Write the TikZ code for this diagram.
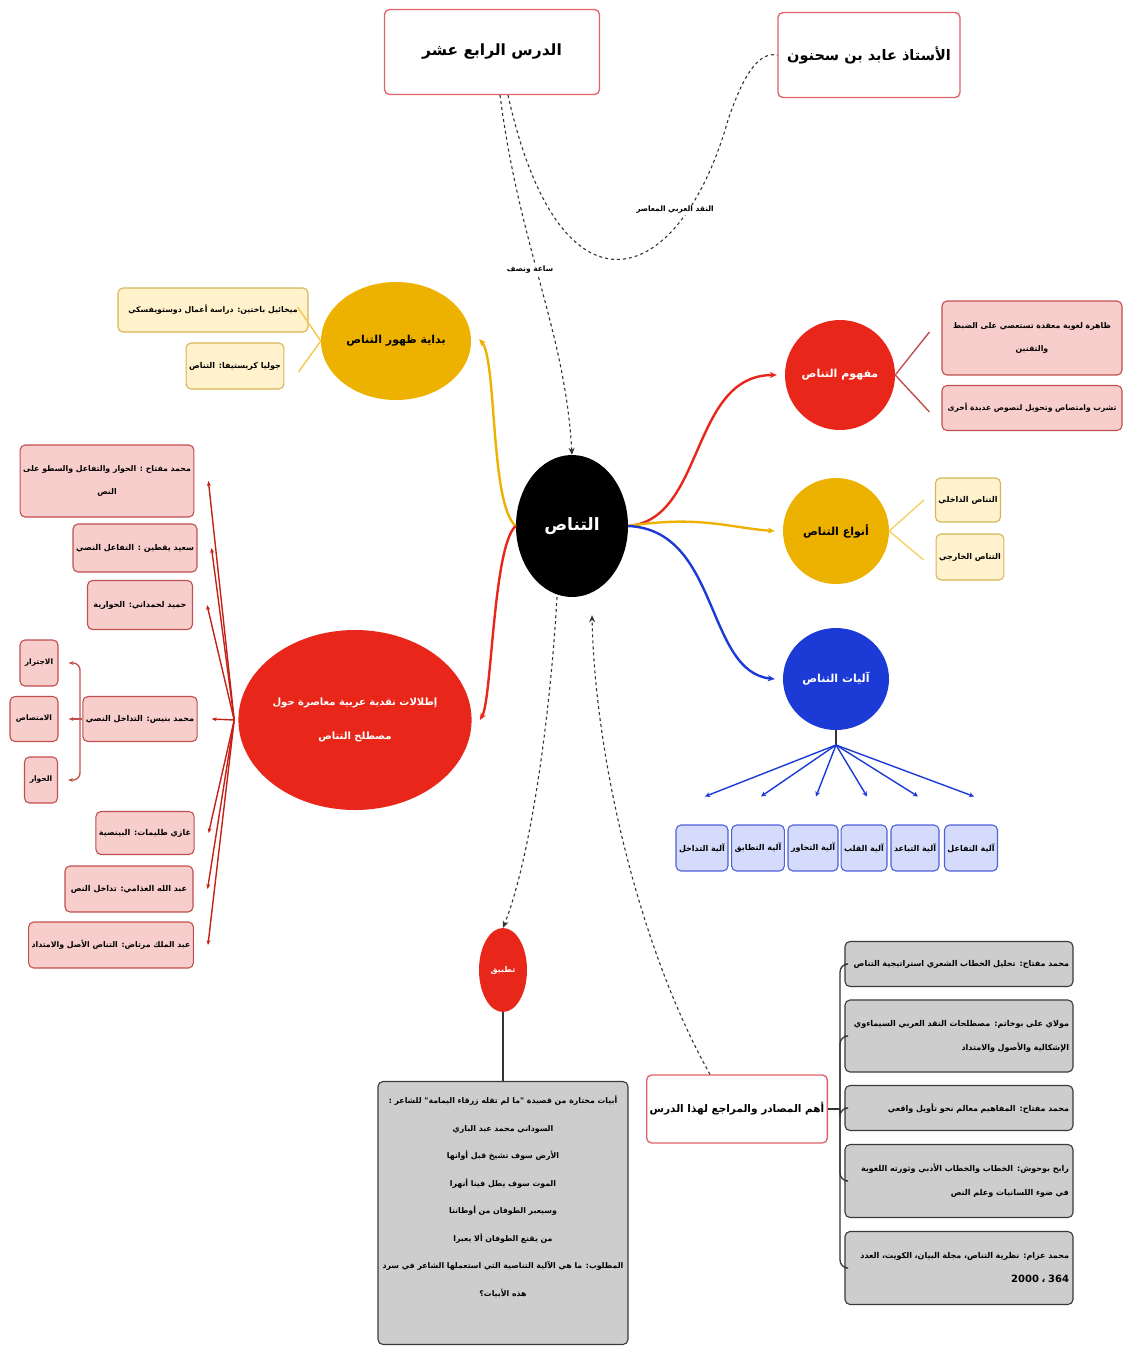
\documentclass[tikz,border=0pt]{standalone}
\usepackage{fontspec}
\newfontfamily\arabicfont[Script=Arabic]{DejaVu Sans}
\TeXXeTstate=1
\usetikzlibrary{arrows.meta,shapes.geometric,calc}
\newcommand{\AR}[1]{\beginR #1\endR}
\newcommand{\ARL}[1]{\mbox{\beginR #1\endR}}
\newcommand{\EN}[1]{\beginL #1\endL{}}
\definecolor{cRed}{HTML}{E8261A}
\definecolor{cYel}{HTML}{EDB200}
\definecolor{cBlue}{HTML}{1C3BD6}
\definecolor{pinkF}{HTML}{F8CECC}
\definecolor{pinkD}{HTML}{C0504D}
\definecolor{yelF}{HTML}{FFF2CC}
\definecolor{yelD}{HTML}{D6B656}
\definecolor{blueF}{HTML}{D5DBFA}
\definecolor{blueD}{HTML}{4F5FD8}
\definecolor{grayF}{HTML}{CDCDCD}
\definecolor{grayD}{HTML}{3A3A3A}
\definecolor{titleD}{HTML}{E0606A}
\definecolor{lineG}{HTML}{333333}
\begin{document}
\begin{tikzpicture}[x=1pt,y=-1pt,
  every node/.style={font=\arabicfont\bfseries},
  fs/.style={font=\arabicfont\bfseries\fontsize{#1}{\dimexpr #1pt*3\relax}\selectfont},
  boxbase/.style={rectangle, rounded corners=5pt, line width=1.1pt, align=center, inner sep=3pt},
  titlebox/.style={boxbase, fill=white, draw=titleD, line width=1.3pt},
  pinkbox/.style={boxbase, fill=pinkF, draw=pinkD, fs=8},
  yelbox/.style={boxbase, fill=yelF, draw=yelD, fs=8},
  bluebox/.style={boxbase, fill=blueF, draw=blueD, fs=8},
  graybox/.style={boxbase, fill=grayF, draw=grayD, fs=8},
  srcbox/.style={graybox, minimum width=228, text width=220, align=right},
  blob/.style={ellipse, inner sep=0pt, align=center},
  tip/.style={-{Stealth[length=7pt,width=6pt]}},
  dashc/.style={dashed, line width=1.1pt, draw=lineG},
  conn/.style={line width=2.4pt},
  fork/.style={line width=1.4pt},
]
\useasboundingbox (0,0) rectangle (1123,1347);

% ---------- top titles
\node[titlebox, minimum width=215, minimum height=85, fs=15.5] (t1) at (492,52) {\AR{الدرس الرابع عشر}};
\node[titlebox, minimum width=182, minimum height=85, fs=14.5] (t2) at (869,55) {\AR{الأستاذ عابد بن سحنون}};

% ---------- centre
\node[blob, fill=black, text=white, minimum width=112, minimum height=142, fs=17] (c) at (572,526) {\AR{التناص}};

% ---------- yellow: beginnings
\node[blob, fill=cYel, minimum width=150, minimum height=118, fs=11] (y1) at (396,341) {\AR{بداية ظهور التناص}};
\node[yelbox, minimum width=190, minimum height=44, fs=7.8] (y1a) at (213,310) {\AR{ميخائيل باختين: دراسة أعمال دوستويفسكي}};
\node[yelbox, minimum width=95, minimum height=46] (y1b) at (235,366) {\AR{جوليا كريستيفا: التناص}};

% ---------- red: concept
\node[blob, fill=cRed, text=white, minimum width=110, minimum height=110, fs=11] (r1) at (840,375) {\AR{مفهوم التناص}};
\node[pinkbox, minimum width=180, minimum height=74, fs=7.8] (r1a) at (1032,338) {\AR{ظاهرة لغوية معقدة تستعصي على الضبط}\\\AR{والتقنين}};
\node[pinkbox, minimum width=180, minimum height=45, fs=7.6] (r1b) at (1032,408) {\AR{تشرب وامتصاص وتحويل لنصوص عديدة أخرى}};

% ---------- yellow: types
\node[blob, fill=cYel, minimum width=106, minimum height=106, fs=11] (y2) at (836,531) {\AR{أنواع التناص}};
\node[yelbox, minimum width=64, minimum height=44] (y2a) at (968,500) {\AR{التناص الداخلي}};
\node[yelbox, minimum width=66, minimum height=46] (y2b) at (970,557) {\AR{التناص الخارجي}};

% ---------- blue: mechanisms
\node[blob, fill=cBlue, text=white, minimum width=106, minimum height=102, fs=11] (b1) at (836,679) {\AR{آليات التناص}};
\coordinate (hub) at (836,745);
\node[bluebox, minimum width=51, minimum height=46] (bb1) at (971,848) {\AR{آلية التفاعل}};
\node[bluebox, minimum width=48, minimum height=46] (bb2) at (915,848) {\AR{آلية التباعد}};
\node[bluebox, minimum width=42, minimum height=46] (bb3) at (864,848) {\AR{آلية القلب}};
\node[bluebox, minimum width=49, minimum height=46] (bb4) at (813,848) {\AR{آلية التحاور}};
\node[bluebox, minimum width=50, minimum height=46] (bb5) at (758,848) {\AR{آلية التطابق}};
\node[bluebox, minimum width=49, minimum height=46] (bb6) at (702,848) {\AR{آلية التداخل}};

% ---------- red big: Arab critics
\node[blob, fill=cRed, text=white, minimum width=230, minimum height=180, font=\arabicfont\bfseries\fontsize{10}{34}\selectfont] (r2) at (355,720) {\AR{إطلالات نقدية عربية معاصرة حول}\\\AR{مصطلح التناص}};
\node[pinkbox, minimum width=171, minimum height=72, fs=7.8] (l1) at (107,481) {\AR{محمد مفتاح : الحوار والتفاعل والسطو على}\\\AR{النص}};
\node[pinkbox, minimum width=115, minimum height=48] (l2) at (135,548) {\AR{سعيد يقطين : التفاعل النصي}};
\node[pinkbox, minimum width=105, minimum height=49] (l3) at (140,605) {\AR{حميد لحمداني: الحوارية}};
\node[pinkbox, minimum width=105, minimum height=45] (l4) at (140,719) {\AR{محمد بنيس: التداخل النصي}};
\node[pinkbox, minimum width=95, minimum height=43] (l5) at (145,833) {\AR{غازي طليمات: البينصية}};
\node[pinkbox, minimum width=128, minimum height=46] (l6) at (129,889) {\AR{عبد الله الغذامي: تداخل النص}};
\node[pinkbox, minimum width=163, minimum height=46, fs=7.8] (l7) at (111,945) {\AR{عبد الملك مرتاض: التناص الأصل والامتداد}};
\node[pinkbox, minimum width=38, minimum height=46, fs=7.5] (s1) at (39,663) {\AR{الاجترار}};
\node[pinkbox, minimum width=48, minimum height=45, fs=7.5] (s2) at (34,719) {\AR{الامتصاص}};
\node[pinkbox, minimum width=33, minimum height=46, fs=7.5] (s3) at (41,780) {\AR{الحوار}};
\coordinate (bp) at (80,719);

% ---------- application
\node[blob, fill=cRed, text=white, minimum width=48, minimum height=84, fs=8] (tp) at (503,970) {\AR{تطبيق}};
\node[graybox, minimum width=250, minimum height=263, font=\arabicfont\bfseries\fontsize{7.8}{27.5}\selectfont] (gb) at (503,1213) {%
\AR{أبيات مختارة من قصيدة "ما لم تقله زرقاء اليمامة" للشاعر :}\\
\AR{السوداني محمد عبد الباري}\\
\AR{الأرض سوف تشيخ قبل أوانها}\\
\AR{الموت سوف يطل فينا أنهرا}\\
\AR{وسيعبر الطوفان من أوطاننا}\\
\AR{من يقنع الطوفان ألا يعبرا}\\
\AR{المطلوب: ما هي الآلية التناصية التي استعملها الشاعر في سرد}\\
\AR{هذه الأبيات؟}\\[6pt]};

% ---------- sources
\node[titlebox, minimum width=178, minimum height=68, fs=10.5] (src) at (737,1109) {\AR{أهم المصادر والمراجع لهذا الدرس}};
\coordinate (sb) at (840,1109);
\node[srcbox, minimum height=45] (g1) at (959,964) {\ARL{محمد مفتاح: تحليل الخطاب الشعري استراتيجية التناص}};
\node[srcbox, minimum height=72] (g2) at (959,1036) {\ARL{مولاي علي بوخاتم: مصطلحات النقد العربي السيماءوي}\\\ARL{الإشكالية والأصول والامتداد}};
\node[srcbox, minimum height=45] (g3) at (959,1108) {\ARL{محمد مفتاح: المفاهيم معالم نحو تأويل واقعي}};
\node[srcbox, minimum height=73] (g4) at (959,1181) {\ARL{رابح بوحوش: الخطاب والخطاب الأدبي وثورته اللغوية}\\\ARL{في ضوء اللسانيات وعلم النص}};
\node[srcbox, minimum height=73] (g5) at (959,1268) {\ARL{محمد عزام: نظرية التناص، مجلة البيان، الكويت، العدد}\\\ARL{\fontsize{10}{24}\selectfont\EN{364} ، \EN{2000}}};

% ========== connectors
% dashed
\draw[dashc, tip] ($(t1.south)+(8,0)$) .. controls (520,250) and (565,330) .. (c.north);
\node[fs=7.5, fill=white, inner sep=1pt] (lbl1) at (530,270) {\AR{ساعة ونصف}};
\draw[dashc] ($(t1.south)+(16,0)$) .. controls (560,330) and (680,290) .. (728,120) .. controls (745,70) and (760,52) .. (t2.west);
\node[fs=7.5, fill=white, inner sep=1pt] (lbl2) at (675,210) {\AR{النقد العربي المعاصر}};
\draw[dashc, tip] ($(src.north west)+(64,0)$) .. controls (640,950) and (595,760) .. ($(c.south)+(20,18)$);
\draw[dashc, tip] ($(c.south)+(-15,0)$) .. controls (550,720) and (530,860) .. (tp.north);

% coloured main branches
\draw[conn, cYel, tip] (c.west) .. controls (490,505) and (497,360) .. ($(y1.east)+(8,-2)$);
\draw[conn, cRed, tip] (c.west) .. controls (493,545) and (492,700) .. ($(r2.east)+(8,0)$);
\draw[conn, cRed, tip] (c.east) .. controls (705,520) and (690,375) .. ($(r1.west)+(-8,0)$);
\draw[conn, cYel, tip] (c.east) .. controls (700,515) and (730,528) .. ($(y2.west)+(-8,0)$);
\draw[conn, cBlue, tip] (c.east) .. controls (720,530) and (705,672) .. ($(b1.west)+(-8,0)$);

% forks
\draw[fork, cYel!70] (y1.west) -- ($(y1a.east)+(-11,-3)$);
\draw[fork, cYel!70] (y1.west) -- ($(y1b.east)+(14,6)$);
\draw[fork, pinkD] (r1.east) -- ($(r1a.west)+(-12,-6)$);
\draw[fork, pinkD] (r1.east) -- ($(r1b.west)+(-12,4)$);
\draw[fork, cYel!60] (y2.east) -- ($(y2a.west)+(-11,0)$);
\draw[fork, cYel!60] (y2.east) -- ($(y2b.west)+(-12,3)$);

% blue fan
\draw[line width=1.3pt, lineG] (b1.south) -- (hub);
\foreach \b in {bb1,bb2,bb3,bb4,bb5,bb6}
  \draw[line width=1.4pt, cBlue, -{Stealth[length=5pt,width=5pt]}] (hub) -- ($(\b.north)+(3,-28)$);

% left red fan
\foreach \l in {l1,l2,l3,l4,l5,l6,l7}
  \draw[line width=1.4pt, cRed!85!black, -{Stealth[length=5pt,width=4pt]}] ($(r2.west)+(-4,0)$) -- ($(\l.east)+(14,0)$);

% Bennis bracket
\draw[line width=1.3pt, pinkD] (l4.west) -- (bp);
\draw[line width=1.3pt, pinkD, rounded corners=7pt, -{Stealth[length=5pt,width=4pt]}] (bp) |- ($(s1.east)+(10,0)$);
\draw[line width=1.3pt, pinkD, -{Stealth[length=5pt,width=4pt]}] (bp) -- ($(s2.east)+(10,0)$);
\draw[line width=1.3pt, pinkD, rounded corners=7pt, -{Stealth[length=5pt,width=4pt]}] (bp) |- ($(s3.east)+(10,0)$);

% application
\draw[line width=1.3pt, lineG] (tp.south) -- (gb.north);

% sources bracket
\draw[line width=2pt, lineG] (src.east) -- (sb);
\foreach \g in {g1,g2,g3,g4,g5}
  \draw[line width=1.3pt, lineG, rounded corners=8pt] (sb) |- (\g.west);
\end{tikzpicture}
\end{document}
